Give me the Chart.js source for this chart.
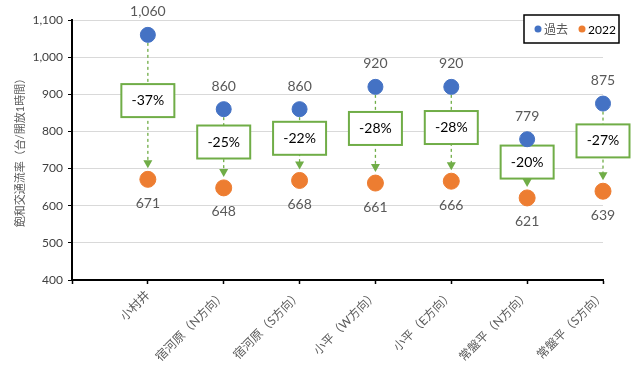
<!DOCTYPE html>
<html>
<head>
<meta charset="utf-8">
<script src="https://cdn.jsdelivr.net/npm/chart.js@4.4.1/dist/chart.umd.min.js"></script>
<style>
    html, body { margin: 0; padding: 0; background: #fff; }
    #wrap { width: 634px; height: 365px; }
</style>
</head>
<body>
<div id="wrap"><canvas id="chart" width="634" height="365"></canvas></div>
<script>
const categories = ['小村井', '宿河原（N方向）', '宿河原（S方向）', '小平（W方向）', '小平（E方向）', '常盤平（N方向）', '常盤平（S方向）'];
const pastValues = [1060, 860, 860, 920, 920, 779, 875];
const values2022 = [671, 648, 668, 661, 666, 621, 639];
const changeLabels = ['-37%', '-25%', '-22%', '-28%', '-28%', '-20%', '-27%'];
const yTicks = [400, 500, 600, 700, 800, 900, 1000, 1100];

const FONT = 'Lato, "Noto Sans CJK JP", sans-serif';
const BLUE = '#4472C4';
const ORANGE = '#ED7D31';
const GREEN = '#70AD47';
const GREY_TEXT = '#595959';

// arrows, change boxes, value labels and legend
const annotatePlugin = {
    id: 'annotate',
    beforeDatasetsDraw(chart) {
        const ctx = chart.ctx;
        const xs = chart.scales.x, ys = chart.scales.y;
        ctx.save();
        categories.forEach((c, i) => {
            const x = xs.getPixelForValue(i + 1);
            const yTop = ys.getPixelForValue(pastValues[i]);
            const yBot = ys.getPixelForValue(values2022[i]);
            const tip = yBot - 11;
            // dashed line
            ctx.strokeStyle = GREEN;
            ctx.lineWidth = 1.3;
            ctx.setLineDash([3, 3]);
            ctx.beginPath();
            ctx.moveTo(x, yTop + 8);
            ctx.lineTo(x, tip - 6);
            ctx.stroke();
            ctx.setLineDash([]);
            // arrowhead
            ctx.fillStyle = GREEN;
            ctx.beginPath();
            ctx.moveTo(x, tip);
            ctx.lineTo(x - 4.5, tip - 8);
            ctx.lineTo(x + 4.5, tip - 8);
            ctx.closePath();
            ctx.fill();
            // change box
            const cy = (yTop + tip) / 2 - 1;
            const w = 53, h = 33;
            ctx.fillStyle = '#fff';
            ctx.fillRect(x - w / 2, cy - h / 2, w, h);
            ctx.strokeStyle = GREEN;
            ctx.lineWidth = 2;
            ctx.strokeRect(x - w / 2, cy - h / 2, w, h);
            ctx.fillStyle = '#000';
            ctx.font = '14px ' + FONT;
            ctx.textAlign = 'center';
            ctx.textBaseline = 'middle';
            ctx.fillText(changeLabels[i], x, cy);
        });
        ctx.restore();
    },
    afterDatasetsDraw(chart) {
        const ctx = chart.ctx;
        const xs = chart.scales.x, ys = chart.scales.y;
        ctx.save();
        ctx.font = '14px ' + FONT;
        ctx.fillStyle = GREY_TEXT;
        ctx.textAlign = 'center';
        ctx.textBaseline = 'middle';
        categories.forEach((c, i) => {
            const x = xs.getPixelForValue(i + 1);
            ctx.fillText(pastValues[i].toLocaleString('en-US'), x, ys.getPixelForValue(pastValues[i]) - 23);
            ctx.fillText(values2022[i].toLocaleString('en-US'), x, ys.getPixelForValue(values2022[i]) + 24);
        });

        // legend box
        const lx = 524, ly = 15, lw = 95, lh = 28;
        ctx.fillStyle = '#fff';
        ctx.fillRect(lx, ly, lw, lh);
        ctx.strokeStyle = '#000';
        ctx.lineWidth = 1.5;
        ctx.strokeRect(lx, ly, lw, lh);
        ctx.font = '12px ' + FONT;
        ctx.textAlign = 'left';
        let cx = lx + 14;
        chart.data.datasets.forEach(ds => {
            ctx.fillStyle = ds.backgroundColor;
            ctx.beginPath();
            ctx.arc(cx, ly + lh / 2, 3.5, 0, Math.PI * 2);
            ctx.fill();
            ctx.fillStyle = ds.label === '2022' ? '#000' : GREY_TEXT;
            ctx.fillText(ds.label, cx + 6, ly + lh / 2 + 1);
            cx += 44;
        });
        ctx.restore();
    }
};

new Chart(document.getElementById('chart'), {
    type: 'scatter',
    data: {
        datasets: [
            {
                label: '過去',
                data: pastValues.map((v, i) => ({ x: i + 1, y: v })),
                backgroundColor: BLUE,
                borderColor: BLUE,
                pointRadius: 7.5,
                pointHoverRadius: 7.5,
                clip: false
            },
            {
                label: '2022',
                data: values2022.map((v, i) => ({ x: i + 1, y: v })),
                backgroundColor: ORANGE,
                borderColor: ORANGE,
                pointRadius: 8,
                pointHoverRadius: 8,
                clip: false
            }
        ]
    },
    options: {
        responsive: false,
        animation: false,
        layout: { padding: { top: 20, right: 31, left: 0, bottom: 0 } },
        plugins: {
            legend: { display: false },
            tooltip: { enabled: false }
        },
        scales: {
            x: {
                type: 'linear',
                min: 0,
                max: 7,
                afterBuildTicks: scale => {
                    scale.ticks = [0, 1, 2, 3, 4, 5, 6, 7].map(v => ({ value: v }));
                },
                afterFit: scale => { scale.height = 85; },
                border: { color: '#000', width: 2 },
                grid: {
                    drawOnChartArea: false,
                    drawTicks: true,
                    tickLength: 4,
                    tickColor: '#000',
                    tickWidth: 1.5
                },
                ticks: {
                    autoSkip: false,
                    maxRotation: 45,
                    minRotation: 45,
                    padding: 4,
                    color: GREY_TEXT,
                    font: { family: FONT, size: 12 },
                    callback: value => categories[value - 1] || ''
                }
            },
            y: {
                min: 400,
                max: 1100,
                afterBuildTicks: scale => {
                    scale.ticks = yTicks.map(v => ({ value: v }));
                },
                afterFit: scale => { scale.width = 72; },
                border: { color: '#000', width: 2 },
                grid: {
                    color: '#D9D9D9',
                    lineWidth: 1,
                    tickLength: 4,
                    tickColor: '#000'
                },
                ticks: {
                    padding: 5,
                    color: '#404040',
                    font: { family: FONT, size: 12 },
                    callback: value => value.toLocaleString('en-US')
                },
                title: {
                    display: true,
                    text: '飽和交通流率（台/開放1時間）',
                    color: GREY_TEXT,
                    font: { family: FONT, size: 11 },
                    padding: { top: 14, bottom: 0 }
                }
            }
        }
    },
    plugins: [annotatePlugin]
});
</script>
</body>
</html>
